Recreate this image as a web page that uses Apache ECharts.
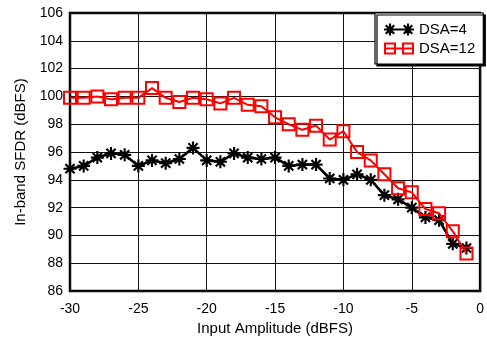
<!DOCTYPE html>
<html>
<head>
<meta charset="utf-8">
<script src="https://cdn.jsdelivr.net/npm/echarts@6/dist/echarts.min.js"></script>
<style>html,body{margin:0;padding:0;background:#fff;}#c{width:487px;height:341px;}</style>
</head>
<body>
<div id="c"></div>
<script>
const inputAmplitude = [-30,-29,-28,-27,-26,-25,-24,-23,-22,-21,-20,-19,-18,-17,-16,-15,-14,-13,-12,-11,-10,-9,-8,-7,-6,-5,-4,-3,-2,-1];
const dsa4 = [94.8,95.0,95.6,95.9,95.8,95.0,95.4,95.2,95.5,96.3,95.4,95.3,95.9,95.6,95.5,95.6,95.0,95.1,95.1,94.1,94.0,94.4,94.0,92.9,92.6,92.0,91.3,91.1,89.4,89.1];
const dsa12 = [99.9,99.9,100.0,99.8,99.9,99.9,100.6,99.9,99.6,99.9,99.8,99.5,99.9,99.4,99.3,98.5,98.0,97.6,97.9,96.9,97.5,96.0,95.4,94.4,93.4,93.1,91.9,91.6,90.3,88.7];
const seriesNames = ['DSA=4','DSA=12'];
const xTitle = 'Input Amplitude (dBFS)';
const yTitle = 'In-band SFDR (dBFS)';

const FONT = 'Liberation Sans, Arial, Helvetica, sans-serif';

// symbol geometry helpers (shapes only)
function rect(x1,y1,x2,y2){ return `M${x1} ${y1}L${x2} ${y1}L${x2} ${y2}L${x1} ${y2}Z`; }
function starPath(cx,cy,r,h){
  const d = r*0.7071, o = h*0.7071;
  let p = rect(cx-h,cy-r,cx+h,cy+r) + rect(cx-r,cy-h,cx+r,cy+h);
  p += `M${cx-d+o} ${cy-d-o}L${cx+d+o} ${cy+d-o}L${cx+d-o} ${cy+d+o}L${cx-d-o} ${cy-d+o}Z`;
  p += `M${cx+d+o} ${cy-d+o}L${cx-d+o} ${cy+d+o}L${cx-d-o} ${cy+d-o}L${cx+d-o} ${cy-d-o}Z`;
  return p;
}
function squareOutline(x1,y1,s,t){
  return rect(x1,y1,x1+s,y1+t) + rect(x1,y1+s-t,x1+s,y1+s) + rect(x1,y1,x1+t,y1+s) + rect(x1+s-t,y1,x1+s,y1+s);
}
const starSymbol = 'path://' + starPath(12,12,12,2);
const starIcon = 'path://' + starPath(12,12,12,2.2) + starPath(48,12,12,2.2) + rect(12,9.8,48,14.2);
const squareIcon = 'path://' + squareOutline(0,0,24,4) + squareOutline(36,0,24,4) + rect(0,10,60,14);

const chart = echarts.init(document.getElementById('c'), null, {renderer:'canvas'});
chart.setOption({
  animation:false,
  backgroundColor:'#fff',
  textStyle:{fontFamily:FONT},
  grid:{left:70,right:4,top:13,bottom:44,show:true,borderColor:'#000',borderWidth:2.5,backgroundColor:'transparent'},
  legend:{
    orient:'vertical',left:375,top:13,
    padding:[9,8,8,9],itemGap:4,itemWidth:30,itemHeight:12,
    backgroundColor:'#fff',borderColor:'#000',borderWidth:1.2,
    shadowColor:'#000',shadowOffsetX:2,shadowOffsetY:2,shadowBlur:0,
    textStyle:{fontFamily:FONT,fontSize:15,color:'#000'},
    data:[
      {name:seriesNames[0],icon:starIcon,itemStyle:{color:'#000',borderWidth:0}},
      {name:seriesNames[1],icon:squareIcon,itemStyle:{color:'#ff0000',borderWidth:0}}
    ]
  },
  xAxis:{
    type:'value',min:-30,max:0,interval:5,
    name:xTitle,nameLocation:'middle',nameGap:25,
    nameTextStyle:{fontFamily:FONT,fontSize:15,color:'#000'},
    axisLine:{show:false},axisTick:{show:false},
    axisLabel:{fontFamily:FONT,fontSize:14,color:'#000',margin:11},
    splitLine:{show:true,lineStyle:{color:'#111',width:1}}
  },
  yAxis:{
    type:'value',min:86,max:106,interval:2,
    name:yTitle,nameLocation:'middle',nameGap:42,
    nameTextStyle:{fontFamily:FONT,fontSize:15,color:'#000'},
    axisLine:{show:false},axisTick:{show:false},
    axisLabel:{fontFamily:FONT,fontSize:14,color:'#000',margin:7},
    splitLine:{show:true,lineStyle:{color:'#111',width:1}}
  },
  series:[
    {
      name:seriesNames[0],type:'line',
      data:inputAmplitude.map((x,i)=>[x,dsa4[i]]),
      symbol:starSymbol,symbolSize:13,
      lineStyle:{color:'#000',width:2.6},
      itemStyle:{color:'#000'},
      z:3
    },
    {
      name:seriesNames[1],type:'line',
      data:inputAmplitude.map((x,i)=>[x,dsa12[i]]),
      symbol:'rect',symbolSize:12,
      lineStyle:{color:'#ff0000',width:2},
      itemStyle:{color:'rgba(255,255,255,0)',borderColor:'#ff0000',borderWidth:2},
      z:4
    }
  ]
});
</script>
</body>
</html>
